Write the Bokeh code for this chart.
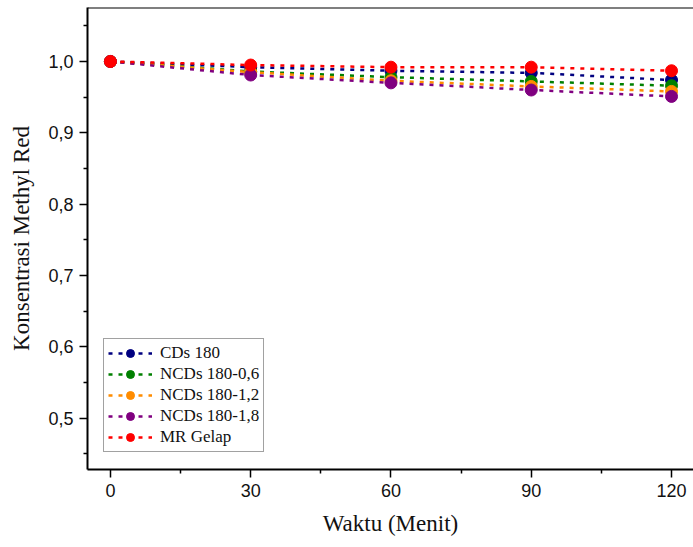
from bokeh.plotting import figure
from bokeh.models import Range1d, FixedTicker, Legend, LegendItem, Span
from bokeh.embed import file_html
from bokeh.resources import INLINE

# ---- data ----
waktu = [0, 30, 60, 90, 120]
cds_180 = [1.000, 0.992, 0.987, 0.984, 0.974]
ncds_180_06 = [1.000, 0.986, 0.978, 0.972, 0.966]
ncds_180_12 = [1.000, 0.985, 0.973, 0.965, 0.958]
ncds_180_18 = [1.000, 0.981, 0.970, 0.960, 0.951]
mr_gelap = [1.000, 0.995, 0.992, 0.992, 0.987]

series_labels = ["CDs 180", "NCDs 180-0,6", "NCDs 180-1,2", "NCDs 180-1,8", "MR Gelap"]
series_colors = ["#000080", "#008000", "#FF8C00", "#800080", "#FF0000"]

x_ticks = [0, 30, 60, 90, 120]
x_minor = [15, 45, 75, 105]
y_ticks = [0.5, 0.6, 0.7, 0.8, 0.9, 1.0]
y_tick_labels = ["0,5", "0,6", "0,7", "0,8", "0,9", "1,0"]
y_minor = [0.45, 0.55, 0.65, 0.75, 0.85, 0.95, 1.05]

x_title = "Waktu (Menit)"
y_title = "Konsentrasi Methyl Red"

Y_TOP = 1.0757
p = figure(width=693, height=547,
           x_range=Range1d(-4.9, 124.7), y_range=Range1d(0.4278, Y_TOP),
           output_backend="svg", toolbar_location=None,
           min_border_left=87, min_border_right=0,
           min_border_top=7, min_border_bottom=78)
p.outline_line_color = None
p.xgrid.visible = False
p.ygrid.visible = False
p.background_fill_color = "white"
p.border_fill_color = "white"

# x axis
xa = p.xaxis[0]
xa.ticker = FixedTicker(ticks=x_ticks, minor_ticks=x_minor)
xa.axis_label = x_title
# y axis
ya = p.yaxis[0]
ya.ticker = FixedTicker(ticks=y_ticks, minor_ticks=y_minor)
ya.major_label_overrides = {t: l for t, l in zip(y_ticks, y_tick_labels)}
ya.axis_label = y_title

for ax in (xa, ya):
    ax.axis_line_width = 2
    ax.axis_line_color = "black"
    ax.major_tick_line_width = 1.5
    ax.minor_tick_line_width = 1.5
    ax.major_tick_line_color = "black"
    ax.minor_tick_line_color = "black"
    ax.major_tick_out = 8
    ax.major_tick_in = 0
    ax.minor_tick_out = 4
    ax.minor_tick_in = 0
    ax.major_label_text_font = "Liberation Sans"
    ax.major_label_text_font_size = "18px"
    ax.major_label_text_color = "#111111"
    ax.axis_label_text_font = "Liberation Serif"
    ax.axis_label_text_font_size = "23px"
    ax.axis_label_text_font_style = "normal"
    ax.axis_label_text_color = "#111111"
xa.major_label_standoff = 6
ya.major_label_standoff = 6
xa.axis_label_standoff = 11
ya.axis_label_standoff = 11

# top border of the frame
p.add_layout(Span(location=Y_TOP, dimension="width", line_color="black", line_width=2))

all_series = [cds_180, ncds_180_06, ncds_180_12, ncds_180_18, mr_gelap]
items = []
for vals, lab, col in zip(all_series, series_labels, series_colors):
    ln = p.line(waktu, vals, line_color=col, line_width=2.5, line_dash="4 6")
    sc = p.scatter(waktu, vals, marker="circle", size=12, fill_color=col, line_color=col)
    items.append(LegendItem(label=lab, renderers=[ln, sc]))

legend = Legend(items=items, location=(16, 17))
legend.label_text_font = "Liberation Serif"
legend.label_text_font_size = "17px"
legend.label_text_color = "#111111"
legend.glyph_width = 44
legend.glyph_height = 20
legend.label_height = 20
legend.spacing = 1
legend.padding = 4
legend.margin = 0
legend.label_standoff = 8
legend.border_line_color = "#444444"
legend.border_line_width = 1.5
legend.background_fill_alpha = 1
p.add_layout(legend, "center")

open("out.html", "w").write(file_html(p, INLINE))
